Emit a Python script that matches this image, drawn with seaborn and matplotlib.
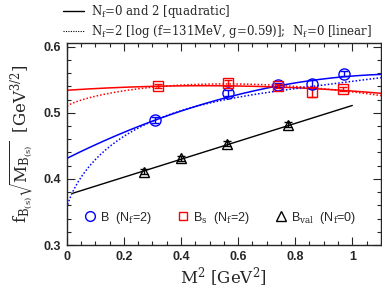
import numpy as np
import pandas as pd
import seaborn as sns
import matplotlib.pyplot as plt
from matplotlib.lines import Line2D
from matplotlib.ticker import MultipleLocator, FormatStrFormatter

sns.set_style('ticks')
plt.rcParams['mathtext.fontset'] = 'dejavuserif'

# data points
b_x = [0.31, 0.565, 0.74, 0.86, 0.97]
b_y = [0.489, 0.530, 0.542, 0.543, 0.559]
b_err = [0.004, 0.004, 0.003, 0.006, 0.004]

bs_x = [0.32, 0.565, 0.74, 0.86, 0.967]
bs_y = [0.540, 0.545, 0.540, 0.531, 0.536]
bs_err = [0.003, 0.004, 0.003, 0.007, 0.003]

bval_x = [0.27, 0.40, 0.56, 0.775]
bval_y = [0.411, 0.431, 0.453, 0.482]
bval_err = [0.004, 0.004, 0.004, 0.004]

# fit coefficients: y = a + b x + c x ln(x) + d x^2
b_quad = [0.431, 0.2152, 0.0, -0.0907]
bs_quad = [0.534, 0.02857, 0.0, -0.02975]
b_log = [0.356, 0.030, -0.2981, 0.1614]
bs_log = [0.510, 0.0501, -0.0446, -0.02849]
# N_f=0 linear fit: y = a + b x, drawn on [0.02, 1.0]
bval_lin = [0.3755, 0.1355]
bval_range = [0.02, 1.0]


def curve(p, x):
    xl = np.where(x > 0, x * np.log(np.maximum(x, 1e-12)), 0.0)
    return p[0] + p[1] * x + p[2] * xl + p[3] * x ** 2


xs = np.linspace(0, 1.1, 300)
xv = np.linspace(bval_range[0], bval_range[1], 50)

fig, ax = plt.subplots(figsize=(3.82, 2.9), dpi=100)
fig.subplots_adjust(left=0.175, right=0.997, bottom=0.155, top=0.853)

curves = pd.DataFrame({
    'x': np.concatenate([xs, xs, xs, xs]),
    'y': np.concatenate([curve(b_quad, xs), curve(bs_quad, xs),
                         curve(b_log, xs), curve(bs_log, xs)]),
    'set': ['bq'] * len(xs) + ['sq'] * len(xs) + ['bl'] * len(xs) + ['sl'] * len(xs),
})
pal = {'bq': 'blue', 'sq': 'red', 'bl': 'blue', 'sl': 'red'}
dash = {'bq': '', 'sq': '', 'bl': (1, 1.3), 'sl': (1, 1.3)}
sns.lineplot(data=curves, x='x', y='y', hue='set', style='set', palette=pal,
             dashes=dash, lw=1.1, ax=ax, legend=False, sort=False, estimator=None)

lin = pd.DataFrame({'x': xv, 'y': bval_lin[0] + bval_lin[1] * xv})
sns.lineplot(data=lin, x='x', y='y', color='black', lw=1.0, ax=ax)

ax.errorbar(b_x, b_y, yerr=b_err, fmt='o', ms=8, mfc='none', mec='blue',
            ecolor='blue', mew=1.0, elinewidth=1.0, capsize=3, zorder=5)
ax.errorbar(bs_x, bs_y, yerr=bs_err, fmt='s', ms=6.5, mfc='none', mec='red',
            ecolor='red', mew=1.0, elinewidth=1.0, capsize=3, zorder=5)
ax.errorbar(bval_x, bval_y, yerr=bval_err, fmt='^', ms=7, mfc='none', mec='black',
            ecolor='black', mew=1.0, elinewidth=1.0, capsize=3, zorder=5)

ax.set_xlim(0, 1.1)
ax.set_ylim(0.3, 0.606)
ax.xaxis.set_major_locator(MultipleLocator(0.2))
ax.xaxis.set_minor_locator(MultipleLocator(0.05))
ax.yaxis.set_major_locator(MultipleLocator(0.1))
ax.yaxis.set_minor_locator(MultipleLocator(0.02))
ax.set_xticks([0, 0.2, 0.4, 0.6, 0.8, 1.0])
ax.set_xticklabels(['0', '0.2', '0.4', '0.6', '0.8', '1'])
ax.yaxis.set_major_formatter(FormatStrFormatter('%.1f'))
ax.tick_params(which='both', direction='in', top=True, right=True, width=0.8)
ax.tick_params(which='major', length=6, labelsize=9, pad=4)
ax.tick_params(which='minor', length=3)
for lab in ax.get_xticklabels() + ax.get_yticklabels():
    lab.set_fontfamily('Liberation Sans')
    lab.set_fontweight('bold')
for s in ax.spines.values():
    s.set_linewidth(1.0)

ax.set_xlabel(r'$\mathrm{M^2\ [GeV^2]}$', fontsize=12, labelpad=2)
ax.set_ylabel(r'$\mathrm{f_{B_{(s)}}\sqrt{M_{B_{(s)}}}\ \ [GeV^{3/2}]}$', fontsize=12, labelpad=6)

# legend for the data symbols, inside the axes
sym = [Line2D([], [], ls='none', marker='o', ms=7, mfc='none', mec='blue'),
       Line2D([], [], ls='none', marker='s', ms=6, mfc='none', mec='red'),
       Line2D([], [], ls='none', marker='^', ms=6.5, mfc='none', mec='black')]
sym_lab = [r'B  (N$_\mathrm{f}$=2)', r'B$_\mathrm{s}$  (N$_\mathrm{f}$=2)',
           r'B$_\mathrm{val}$  (N$_\mathrm{f}$=0)']
leg1 = ax.legend(sym, sym_lab, loc='lower center', bbox_to_anchor=(0.49, 0.04), ncol=3,
                 frameon=False, handlelength=0.8, handletextpad=0.4, columnspacing=2.1,
                 prop={'family': 'Liberation Sans', 'size': 9})
ax.add_artist(leg1)

# legend for the fit curves, above the axes
fits = [Line2D([], [], color='black', lw=1.0),
        Line2D([], [], color='black', lw=0.8, ls=(0, (1, 1.2)))]
fit_lab = [r'N$_\mathrm{f}$=0 and 2 [quadratic]',
           r'N$_\mathrm{f}$=2 [log (f=131MeV, g=0.59)];  N$_\mathrm{f}$=0 [linear]']
ax.legend(fits, fit_lab, loc='lower left', bbox_to_anchor=(-0.02, 1.0), frameon=False,
          handlelength=1.8, handletextpad=0.6, labelspacing=0.25, borderpad=0.2,
          prop={'family': 'DejaVu Serif', 'size': 8.5}, borderaxespad=0.0)

fig.savefig('out.png', dpi=100)
